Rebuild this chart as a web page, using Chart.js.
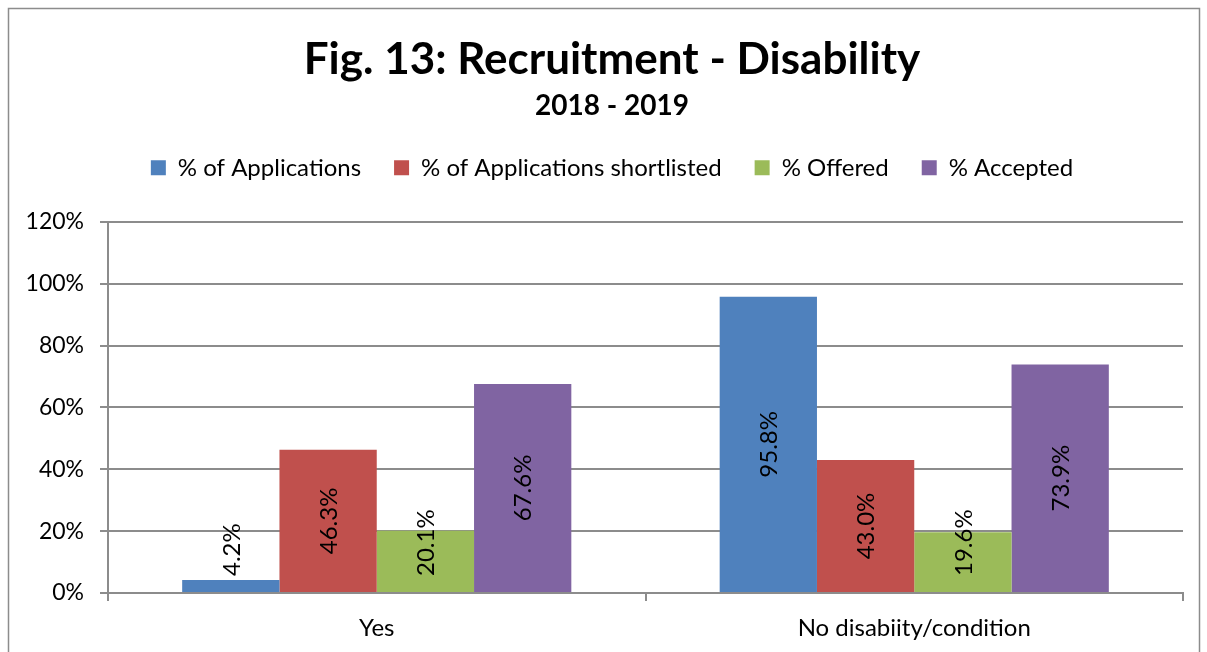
<!DOCTYPE html>
<html>
<head>
<meta charset="utf-8">
<script src="https://cdn.jsdelivr.net/npm/chart.js@4"></script>
<style>
  html, body { margin: 0; padding: 0; background: #fff; }
  #wrap { position: relative; width: 1207px; height: 652px; }
</style>
</head>
<body>
<div id="wrap"><canvas id="grafico" width="1207" height="652"></canvas></div>
<script>
// datos
const categorias = ["Yes", "No disabiity/condition"];
const series = ["% of Applications", "% of Applications shortlisted", "% Offered", "% Accepted"];
const aplicaciones = [4.2, 95.8];
const preseleccionadas = [46.3, 43.0];
const ofrecidas = [20.1, 19.6];
const aceptadas = [67.6, 73.9];
const colores = ["#4F81BD", "#C0504D", "#9BBB59", "#8064A2"];
const ticksY = [0, 20, 40, 60, 80, 100, 120];

const FUENTE = "Lato, 'Noto Sans', sans-serif";
const GRIS = "#8c8c8c";

// marco exterior
const marco = {
  id: "marco",
  beforeDraw(chart) {
    const ctx = chart.ctx;
    ctx.save();
    ctx.fillStyle = "#fff";
    ctx.fillRect(0, 0, chart.width, chart.height);
    ctx.strokeStyle = GRIS;
    ctx.lineWidth = 1.5;
    ctx.strokeRect(8.5, 8.5, 1191, 700);
    ctx.restore();
  }
};

// etiquetas verticales sobre las barras
const etiquetas = {
  id: "etiquetas",
  afterDatasetsDraw(chart) {
    const ctx = chart.ctx;
    ctx.save();
    ctx.font = "24px " + FUENTE;
    ctx.fillStyle = "#000";
    ctx.textAlign = "center";
    ctx.textBaseline = "middle";
    chart.data.datasets.forEach((ds, i) => {
      chart.getDatasetMeta(i).data.forEach((bar, j) => {
        const txt = ds.data[j].toFixed(1) + "%";
        const w = ctx.measureText(txt).width;
        let centro = (bar.y + bar.base) / 2;
        if (centro + w / 2 > bar.base - 16) centro = bar.base - 16 - w / 2;
        ctx.save();
        ctx.translate(bar.x, centro);
        ctx.rotate(-Math.PI / 2);
        ctx.fillText(txt, 0, 1);
        ctx.restore();
      });
    });
    ctx.restore();
  }
};

const datos = [aplicaciones, preseleccionadas, ofrecidas, aceptadas];

new Chart(document.getElementById("grafico").getContext("2d"), {
  type: "bar",
  data: {
    labels: categorias,
    datasets: series.map((s, i) => ({
      label: s,
      data: datos[i],
      backgroundColor: colores[i],
      borderWidth: 0,
      categoryPercentage: 0.724,
      barPercentage: 1
    }))
  },
  options: {
    responsive: false,
    animation: false,
    layout: { padding: { left: 41, right: 24, top: 18, bottom: 0 } },
    plugins: {
      tooltip: { enabled: false },
      title: {
        display: true,
        text: "Fig. 13: Recruitment - Disability",
        color: "#000",
        font: { family: FUENTE, size: 44, weight: "bold" },
        padding: { top: 15.6, bottom: 2.8 }
      },
      subtitle: {
        display: true,
        text: "2018 - 2019",
        color: "#000",
        font: { family: FUENTE, size: 28, weight: "bold" },
        padding: { top: 0, bottom: 0 }
      },
      legend: {
        position: "top",
        labels: {
          color: "#000",
          font: { family: FUENTE, size: 24 },
          boxWidth: 15,
          boxHeight: 15,
          padding: 33
        }
      }
    },
    scales: {
      x: {
        grid: { offset: true, drawOnChartArea: false, color: GRIS, lineWidth: 2, tickLength: 8 },
        border: { color: GRIS, width: 2 },
        ticks: { color: "#000", font: { family: FUENTE, size: 24 }, padding: 13 },
        afterFit(s) { s.height = 59; }
      },
      // hueco entre la leyenda y el área del gráfico
      xHueco: {
        position: "top",
        grid: { display: false },
        border: { display: false },
        ticks: { display: false },
        afterFit(s) { s.height = 32; }
      },
      y: {
        min: 0,
        max: 120,
        afterBuildTicks(s) { s.ticks = ticksY.map(v => ({ value: v })); },
        grid: { color: GRIS, lineWidth: 2, tickLength: 8 },
        border: { color: GRIS, width: 2 },
        ticks: {
          color: "#000",
          font: { family: FUENTE, size: 23 },
          padding: 16,
          callback: v => v + "%"
        },
        afterFit(s) {
          s.width = 67;
          // que no recorte las etiquetas más anchas
          s._computeLabelArea = () => undefined;
        }
      }
    }
  },
  plugins: [marco, etiquetas]
});
</script>
</body>
</html>
